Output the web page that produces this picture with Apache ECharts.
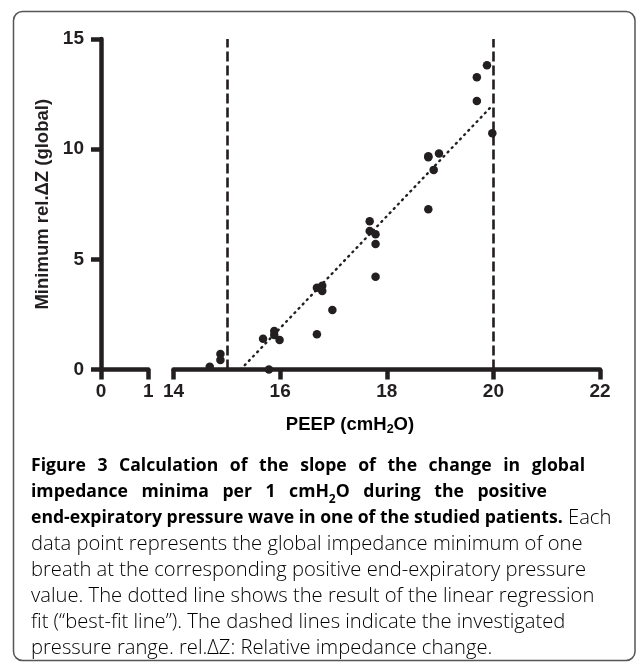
<!DOCTYPE html>
<html><head><meta charset="utf-8">
<script src="https://cdn.jsdelivr.net/npm/echarts@6/dist/echarts.min.js"></script>
<style>html,body{margin:0;padding:0;background:#fff}#c{width:637px;height:667px}</style>
</head><body><div id="c"></div><script>
// ---- data ----
const peep = [14.68,14.88,14.88,15.68,15.89,15.89,15.99,15.79,16.69,16.69,16.79,16.79,16.98,17.68,17.68,17.79,17.79,17.79,18.78,18.78,18.98,18.88,18.78,19.69,19.69,19.88,19.98];
const minRelDZ = [0.13,0.70,0.43,1.40,1.75,1.57,1.34,0.00,1.60,3.71,3.80,3.56,2.70,6.73,6.29,6.14,5.70,4.21,9.68,9.63,9.80,9.06,7.27,13.26,12.19,13.81,10.72];
const fitX = [15.26, 19.94];
const fitY = [0, 11.88];
const rangeLines = [15, 20];
const xLeftRange = [0, 1];
const xRightRange = [14, 22];
const yRange = [0, 15];
const yTickStep = 5;
const xRightTickStep = 2;

const INK = '#231f20';
const FONT = 'Liberation Sans, Arial, sans-serif';

// caption: [style, text] segments per line; justifyTo = right edge for word-spaced lines
const caption = [
  {segs:[['b','Figure 3 Calculation of the slope of the change in global']], justifyTo:585},
  {segs:[['b','impedance minima per 1 cmH'],['bs','2'],['b','O during the positive']], justifyTo:547},
  {segs:[['b','end-expiratory pressure wave in one of the studied patients.'],['r',' Each']]},
  {segs:[['r','data point represents the global impedance minimum of one']]},
  {segs:[['r','breath at the corresponding positive end-expiratory pressure']]},
  {segs:[['r','value. The dotted line shows the result of the linear regression']]},
  {segs:[['r','fit (\u201cbest-fit line\u201d). The dashed lines indicate the investigated']]},
  {segs:[['r','pressure range. rel.\u0394Z: Relative impedance change.']]}
];

const chart = echarts.init(document.getElementById('c'), null, {renderer:'canvas'});

const AXW = 4.5;
function mkAxisLine(w){ return {show:true, onZero:false, lineStyle:{color:INK, width:w}}; }
function mkAxisTick(w){ return {show:true, inside:false, length:10, lineStyle:{color:INK, width:w}}; }
function mkAxisLabel(m){ return {show:true, margin:m, color:INK, fontFamily:FONT, fontWeight:'bold', fontSize:19, showMinLabel:true, showMaxLabel:true}; }

const capFont = '"Open Sans", sans-serif';
const capX = 31;
const fonts = {
  b:{fontFamily:capFont, fontWeight:'bold', fontSize:17.6, color:INK, lineHeight:26},
  bs:{fontFamily:capFont, fontWeight:'bold', fontSize:12, color:INK, lineHeight:16, verticalAlign:'bottom'},
  r:{fontFamily:capFont, fontWeight:300, fontSize:20.2, color:'#4d4d4f', lineHeight:26}
};
const mctx = document.createElement('canvas').getContext('2d');
function measure(st, txt){ mctx.font = st.fontWeight + ' ' + st.fontSize + 'px ' + st.fontFamily; return mctx.measureText(txt).width; }

const captionGraphics = caption.map((line, i) => {
  const rich = Object.assign({}, fonts);
  let text;
  if (line.justifyTo) {
    let tokens = [];
    line.segs.forEach(([st, t]) => {
      t.split(/( )/).forEach(p => { if (p !== '') tokens.push([p === ' ' ? 'sp' : st, p]); });
    });
    const nSp = tokens.filter(t => t[0] === 'sp').length;
    const wordsW = tokens.filter(t => t[0] !== 'sp').reduce((a, t) => a + measure(fonts[t[0]], t[1]), 0);
    const spW = (line.justifyTo - capX - wordsW) / nSp;
    rich.sp = Object.assign({}, fonts.b, {width: spW});
    text = tokens.map(t => '{' + t[0] + '|' + t[1] + '}').join('');
  } else {
    text = line.segs.map(s => '{' + s[0] + '|' + s[1] + '}').join('');
  }
  return {type:'text', x:capX, y:466 + 26.1*i,
    style:{text, rich, align:'left', verticalAlign:'middle'}};
});

const option = {
  backgroundColor:'#fff',
  animation:false,
  grid:[
    {left:101, right:637-148.3, top:39, bottom:667-369.5, containLabel:false, outerBoundsMode:'none'},
    {left:173.5, right:637-600, top:39, bottom:667-369.5, containLabel:false, outerBoundsMode:'none'}
  ],
  xAxis:[
    {type:'value', gridIndex:0, min:xLeftRange[0], max:xLeftRange[1], interval:1,
     axisLine:mkAxisLine(AXW), axisTick:mkAxisTick(AXW), axisLabel:mkAxisLabel(13), splitLine:{show:false}},
    {type:'value', gridIndex:1, min:xRightRange[0], max:xRightRange[1], interval:xRightTickStep,
     axisLine:mkAxisLine(AXW), axisTick:mkAxisTick(AXW), axisLabel:mkAxisLabel(13), splitLine:{show:false}}
  ],
  yAxis:[
    {type:'value', gridIndex:0, min:yRange[0], max:yRange[1], interval:yTickStep,
     axisLine:mkAxisLine(AXW), axisTick:mkAxisTick(AXW), axisLabel:mkAxisLabel(17), splitLine:{show:false},
     name:'Minimum rel.\u0394Z (global)', nameLocation:'middle', nameGap:49, nameRotate:90,
     nameTextStyle:{color:INK, fontFamily:FONT, fontWeight:'bold', fontSize:18.5}},
    {type:'value', gridIndex:1, min:yRange[0], max:yRange[1], interval:yTickStep, show:false}
  ],
  series:[
    {type:'line', xAxisIndex:1, yAxisIndex:1, data:fitX.map((x,i)=>[x,fitY[i]]),
     showSymbol:false, symbol:'none', z:3, silent:true,
     lineStyle:{color:INK, width:2.4, type:[1,5], cap:'round'}},
    {type:'scatter', xAxisIndex:1, yAxisIndex:1, data:peep.map((x,i)=>[x,minRelDZ[i]]),
     symbol:'circle', symbolSize:8.5, z:5, itemStyle:{color:INK, opacity:1},
     markLine:{silent:true, symbol:['none','none'], label:{show:false}, animation:false,
       lineStyle:{color:INK, width:2.6, type:[10,4]},
       data: rangeLines.map(v => ({xAxis:v}))}}
  ],
  graphic:[
    {type:'rect', shape:{x:13.5, y:11.5, width:621.5, height:649, r:9},
     style:{fill:'none', stroke:'#555', lineWidth:1.5}, z:-1},
    {type:'text', x:350, y:425,
     style:{text:'{a|PEEP (cmH}{s|2}{a|O)}', align:'center', verticalAlign:'middle',
       rich:{a:{fontFamily:FONT, fontWeight:'bold', fontSize:18.5, color:INK, lineHeight:22},
             s:{fontFamily:FONT, fontWeight:'bold', fontSize:12.5, color:INK, lineHeight:14, verticalAlign:'bottom'}}}}
  ].concat(captionGraphics)
};
chart.setOption(option);
</script></body></html>
